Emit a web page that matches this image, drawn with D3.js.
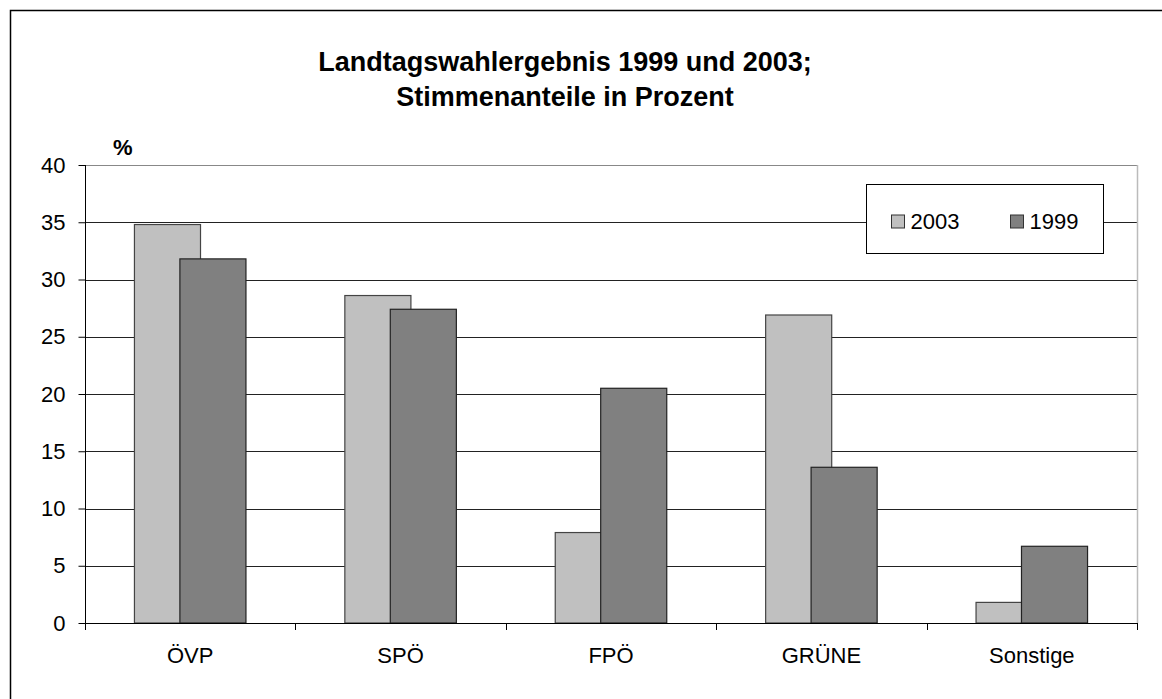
<!DOCTYPE html>
<html>
<head>
<meta charset="utf-8">
<script src="https://cdn.jsdelivr.net/npm/d3@7"></script>
<style>
  body { margin: 0; background: #fff; }
  svg { display: block; font-family: Arial, "Liberation Sans", sans-serif; }
</style>
</head>
<body>
<svg id="chart" width="1162" height="699"></svg>
<script>
const categories = ['ÖVP', 'SPÖ', 'FPÖ', 'GRÜNE', 'Sonstige'];
const values2003 = [34.8, 28.6, 7.9, 26.9, 1.8];
const values1999 = [31.8, 27.4, 20.5, 13.6, 6.7];
const yTicks = [0, 5, 10, 15, 20, 25, 30, 35, 40];
const seriesNames = ['2003', '1999'];
const seriesColors = ['#c0c0c0', '#808080'];

const svg = d3.select('#chart');
const plot = { left: 85, right: 1137, top: 165, bottom: 623 };
const fontSize = 22;

// outer frame (only top/left visible in the picture)
svg.append('rect')
  .attr('x', 10.5).attr('y', 10.5)
  .attr('width', 1162).attr('height', 699)
  .attr('fill', 'none').attr('stroke', '#000').attr('stroke-width', 1.5);

const x = d3.scaleBand()
  .domain(categories)
  .range([plot.left, plot.right])
  .padding(0);

const y = d3.scaleLinear()
  .domain([0, 40])
  .range([plot.bottom, plot.top]);

// gridlines
svg.append('g')
  .selectAll('line')
  .data(yTicks.filter(d => d > 0))
  .enter().append('line')
  .attr('x1', plot.left).attr('x2', plot.right)
  .attr('y1', d => Math.round(y(d)) + 0.5)
  .attr('y2', d => Math.round(y(d)) + 0.5)
  .attr('stroke', d => d === 40 ? '#888' : '#222')
  .attr('stroke-width', 1);

// right border of plot area
svg.append('line')
  .attr('x1', plot.right + 0.5).attr('x2', plot.right + 0.5)
  .attr('y1', plot.top).attr('y2', plot.bottom)
  .attr('stroke', '#bbb').attr('stroke-width', 1.5);

// bars: excel style with overlap
const bw = x.bandwidth();
const barW = bw * 0.314;
const startOff = bw * 0.235;
const secondOff = bw * 0.216;

const bars = svg.append('g');
bars.selectAll('.b2003')
  .data(categories)
  .enter().append('rect')
  .attr('class', 'b2003')
  .attr('x', (d) => x(d) + startOff)
  .attr('y', (d, i) => y(values2003[i]))
  .attr('width', barW)
  .attr('height', (d, i) => y(0) - y(values2003[i]))
  .attr('fill', seriesColors[0])
  .attr('stroke', '#444').attr('stroke-width', 1.2);

bars.selectAll('.b1999')
  .data(categories)
  .enter().append('rect')
  .attr('class', 'b1999')
  .attr('x', (d) => x(d) + startOff + secondOff)
  .attr('y', (d, i) => y(values1999[i]))
  .attr('width', barW)
  .attr('height', (d, i) => y(0) - y(values1999[i]))
  .attr('fill', seriesColors[1])
  .attr('stroke', '#222').attr('stroke-width', 1.2);

// y axis
const yAxis = svg.append('g')
  .attr('transform', 'translate(' + (plot.left + 0.5) + ',0)')
  .call(d3.axisLeft(y).tickValues(yTicks).tickSize(7).tickPadding(13));
yAxis.select('.domain').attr('stroke', '#000').attr('d', 'M0,' + plot.top + 'V' + (plot.bottom + 7));
yAxis.selectAll('.tick line').attr('stroke', '#000');
yAxis.selectAll('text').attr('font-size', fontSize).attr('fill', '#000')
  .style('font-family', 'Arial, "Liberation Sans", sans-serif');

// x axis line and boundary ticks
const xa = svg.append('g');
xa.append('line')
  .attr('x1', plot.left).attr('x2', plot.right)
  .attr('y1', plot.bottom + 0.5).attr('y2', plot.bottom + 0.5)
  .attr('stroke', '#000');
xa.selectAll('.bt')
  .data(categories.slice(1).concat(['end']))
  .enter().append('line')
  .attr('x1', (d, i) => Math.round(plot.left + bw * (i + 1)) + 0.5)
  .attr('x2', (d, i) => Math.round(plot.left + bw * (i + 1)) + 0.5)
  .attr('y1', plot.bottom).attr('y2', plot.bottom + 7)
  .attr('stroke', '#000');
xa.selectAll('text')
  .data(categories)
  .enter().append('text')
  .attr('x', d => x(d) + bw / 2)
  .attr('y', 663)
  .attr('text-anchor', 'middle')
  .attr('font-size', fontSize)
  .text(d => d);

// "%" unit label
svg.append('text')
  .attr('x', 113).attr('y', 155)
  .attr('font-size', fontSize).attr('font-weight', 'bold')
  .text('%');

// title
const title = svg.append('text')
  .attr('text-anchor', 'middle')
  .attr('font-size', 27)
  .attr('font-weight', 'bold');
title.append('tspan').attr('x', 565).attr('y', 71).text('Landtagswahlergebnis 1999 und 2003;');
title.append('tspan').attr('x', 565).attr('y', 106).text('Stimmenanteile in Prozent');

// legend
const lg = svg.append('g');
lg.append('rect')
  .attr('x', 866.5).attr('y', 184.5)
  .attr('width', 237).attr('height', 69)
  .attr('fill', '#fff').attr('stroke', '#000');
const legendX = [891.5, 1010.5];
seriesNames.forEach((name, i) => {
  lg.append('rect')
    .attr('x', legendX[i]).attr('y', 215)
    .attr('width', 13).attr('height', 13)
    .attr('fill', seriesColors[i]).attr('stroke', '#333');
  lg.append('text')
    .attr('x', legendX[i] + 19).attr('y', 229)
    .attr('font-size', fontSize)
    .text(name);
});
</script>
</body>
</html>
